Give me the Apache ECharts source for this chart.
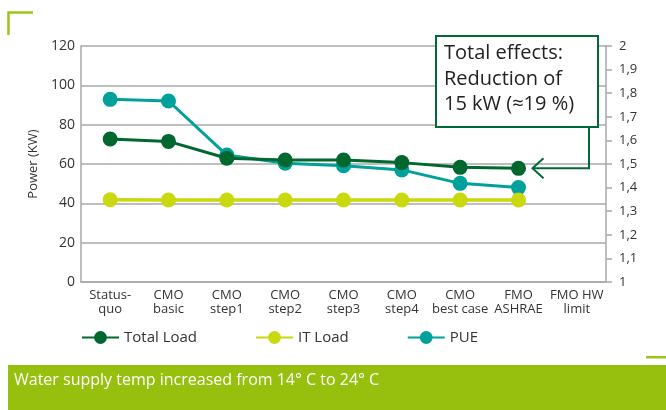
<!DOCTYPE html>
<html>
<head>
<meta charset="utf-8">
<script src="https://cdn.jsdelivr.net/npm/echarts@6/dist/echarts.min.js"></script>
<style>
html,body{margin:0;padding:0;background:#fff;}
#c{width:666px;height:410px;}
</style>
</head>
<body>
<div id="c"></div>
<script>
var categories = ['Status-\nquo', 'CMO\nbasic', 'CMO\nstep1', 'CMO\nstep2', 'CMO\nstep3', 'CMO\nstep4', 'CMO\nbest case', 'FMO\nASHRAE', 'FMO HW\nlimit'];
var totalLoad = [72.7, 71.5, 62.9, 62.0, 62.0, 60.7, 58.3, 57.8, null];
var itLoad = [41.8, 41.7, 41.7, 41.7, 41.7, 41.7, 41.7, 41.7, null];
var pue = [1.774, 1.767, 1.538, 1.503, 1.493, 1.475, 1.418, 1.40, null];
var leftTicks = {min: 0, max: 120, interval: 20};
var rightTicks = {min: 1, max: 2, interval: 0.1};
var annotationLines = ['Total effects:', 'Reduction of', '15 kW (\u224819 %)'];
var bannerText = 'Water supply temp increased from 14\u00b0 C to 24\u00b0 C';

var FONT = '"Open Sans", "Noto Sans", sans-serif';
var C_TOTAL = '#00672f', C_IT = '#c9d80f', C_PUE = '#00a19a';
var C_GRID = '#a8a8a8', C_TEXT = '#333333';

var chart = echarts.init(document.getElementById('c'));
var option = {
  animation: false,
  textStyle: {fontFamily: FONT},
  grid: {left: 81, right: 60, top: 46, bottom: 128},
  legend: {
    left: 76, top: 325, itemWidth: 37, itemHeight: 16, itemGap: 58,
    textStyle: {fontSize: 15, color: C_TEXT, fontFamily: FONT},
    data: ['Total Load', 'IT Load', 'PUE']
  },
  xAxis: {
    type: 'category', data: categories, boundaryGap: true,
    axisLine: {lineStyle: {color: C_GRID, width: 1.5}},
    axisTick: {show: false},
    axisLabel: {fontSize: 13, color: C_TEXT, lineHeight: 14, margin: 6, interval: 0, fontFamily: FONT}
  },
  yAxis: [{
    type: 'value', min: leftTicks.min, max: leftTicks.max, interval: leftTicks.interval,
    name: 'Power (KW)', nameLocation: 'middle', nameGap: 40, nameRotate: 90,
    nameTextStyle: {fontSize: 13, color: C_TEXT, fontFamily: FONT},
    axisLine: {show: true, lineStyle: {color: C_GRID, width: 1.5}},
    axisTick: {show: false},
    axisLabel: {fontSize: 14, color: C_TEXT, margin: 6, fontFamily: FONT},
    splitLine: {lineStyle: {color: C_GRID, width: 1.6}}
  }, {
    type: 'value', min: rightTicks.min, max: rightTicks.max, interval: rightTicks.interval,
    position: 'right',
    axisLine: {show: true, lineStyle: {color: C_GRID, width: 1.5}},
    axisTick: {show: true, inside: false, length: 6, lineStyle: {color: C_GRID, width: 1.5}},
    axisLabel: {fontSize: 13, color: C_TEXT, margin: 13, fontFamily: FONT,
      formatter: function (v) {
        var r = Math.round(v * 10) / 10;
        return (r % 1 === 0 ? String(r) : r.toFixed(1)).replace('.', ',');
      }},
    splitLine: {show: false}
  }],
  series: [{
    name: 'PUE', type: 'line', yAxisIndex: 1, data: pue, z: 2,
    symbol: 'circle', symbolSize: 15, lineStyle: {color: C_PUE, width: 3},
    itemStyle: {color: C_PUE}
  }, {
    name: 'IT Load', type: 'line', yAxisIndex: 0, data: itLoad, z: 3,
    symbol: 'circle', symbolSize: 15, lineStyle: {color: C_IT, width: 3.5},
    itemStyle: {color: C_IT}
  }, {
    name: 'Total Load', type: 'line', yAxisIndex: 0, data: totalLoad, z: 4,
    symbol: 'circle', symbolSize: 15, lineStyle: {color: C_TOTAL, width: 3},
    itemStyle: {color: C_TOTAL}
  }]
};
chart.setOption(option);

// annotation arrow anchored to the last Total Load point
var lastIdx = 7;
var pt = chart.convertToPixel({xAxisIndex: 0, yAxisIndex: 0}, [lastIdx, totalLoad[lastIdx]]);
var ay = pt[1], tipX = pt[0] + 14, elbowX = 589;
var boxX = 436, boxY = 36, boxW = 162, boxH = 91;

chart.setOption({
  graphic: [
    {type: 'polyline', z: 10, shape: {points: [[8.5, 35], [8.5, 12.5], [33, 12.5]]},
      style: {stroke: '#9dc31a', lineWidth: 2.5, fill: null}},
    {type: 'rect', z: 10, shape: {x: boxX, y: boxY, width: boxW, height: boxH},
      style: {fill: '#ffffff', stroke: '#006a36', lineWidth: 2}},
    {type: 'text', z: 11, left: boxX + 8, top: boxY + 5,
      style: {text: annotationLines.join('\n'), fontSize: 20, lineHeight: 25.5, fill: '#222', fontFamily: FONT}},
    {type: 'polyline', z: 10, shape: {points: [[elbowX, boxY + boxH], [elbowX, ay], [tipX, ay]]},
      style: {stroke: '#006a36', lineWidth: 2, fill: null}},
    {type: 'polyline', z: 10, shape: {points: [[tipX + 11, ay - 10], [tipX, ay], [tipX + 11, ay + 10]]},
      style: {stroke: '#006a36', lineWidth: 2, fill: null}},
    {type: 'rect', z: 10, shape: {x: 646, y: 356, width: 20, height: 2.5}, style: {fill: '#9dc31a'}},
    {type: 'rect', z: 10, shape: {x: 8, y: 365, width: 658, height: 45}, style: {fill: '#97bf0d'}},
    {type: 'text', z: 11, left: 14, top: 372,
      style: {text: bannerText, fontSize: 16, fill: '#ffffff', fontFamily: FONT}}
  ]
});
</script>
</body>
</html>
